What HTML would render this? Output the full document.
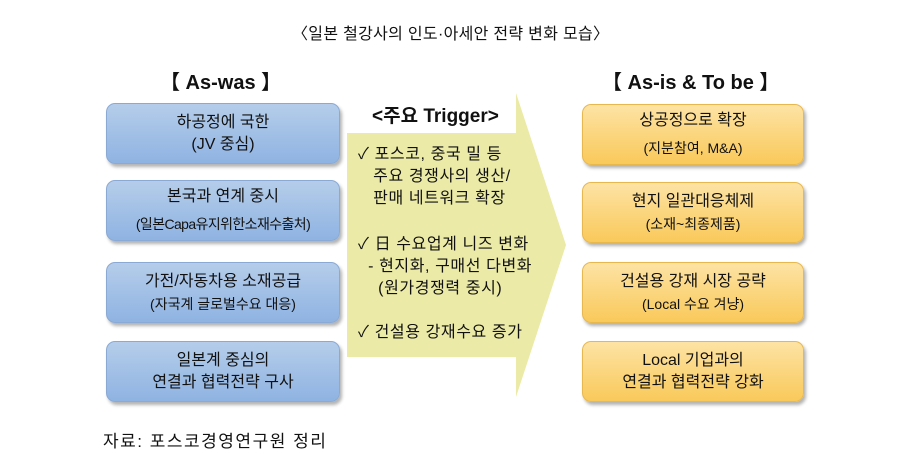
<!DOCTYPE html>
<html><head><meta charset="utf-8"><style>
body{margin:0;width:901px;height:454px;background:#fff;position:relative;overflow:hidden;font-family:"Liberation Sans","Noto Sans CJK KR",sans-serif;color:#111}
.a{position:absolute;white-space:nowrap}
.box{position:absolute;border-radius:9px;display:flex;flex-direction:column;align-items:center;justify-content:center;text-align:center;font-size:16px;line-height:22px;box-shadow:2px 3px 3px rgba(0,0,0,0.3)}
.bl{left:106px;width:232px;height:59px;background:linear-gradient(#b5cdea,#8fb3e2);border:1px solid #8aa9d4}
.or{left:582px;width:220px;height:59px;background:linear-gradient(#fde3a4,#f9c95a);border:1px solid #e8b850}
.s{font-size:14px}
.t{font-size:16px;line-height:22px;position:absolute;white-space:nowrap;letter-spacing:0.6px}
</style></head><body>
<div class="a" style="left:292px;top:20px;font-size:16px;letter-spacing:0.3px">〈일본 철강사의 인도·아세안 전략 변화 모습〉</div>
<div class="a" style="left:160px;top:66px;font-size:20px;font-weight:bold;">【 As-was 】</div>
<div class="a" style="left:602px;top:66px;font-size:20px;font-weight:bold;">【 As-is &amp; To be 】</div>

<svg style="position:absolute;left:0;top:0" width="901" height="454">
<polygon points="347,133 516,133 516,93 566,245 516,397 516,357 347,357" fill="#ebeaa6"/>
<rect x="370" y="98" width="146" height="30" fill="#fff"/>
</svg>
<div class="a" style="left:372px;top:101px;font-size:19px;font-weight:bold;">&lt;주요 Trigger&gt;</div>
<div class="t" style="left:358px;top:144px;">✓ 포스코, 중국 밀 등<br>&nbsp;&nbsp;&nbsp;주요 경쟁사의 생산/<br>&nbsp;&nbsp;&nbsp;판매 네트워크 확장</div>
<div class="t" style="left:358px;top:234px;">✓ 日 수요업계 니즈 변화<br>&nbsp;&nbsp;- 현지화, 구매선 다변화<br>&nbsp;&nbsp;&nbsp;&nbsp;(원가경쟁력 중시)</div>
<div class="t" style="left:358px;top:322px;">✓ 건설용 강재수요 증가</div>

<div class="box bl" style="top:103px;">하공정에 국한<br>(JV 중심)</div>
<div class="box bl" style="top:180px;"><div style="margin-bottom:5px">본국과 연계 중시</div><div class="s" style="letter-spacing:-0.6px">(일본Capa유지위한소재수출처)</div></div>
<div class="box bl" style="top:262px;">가전/자동차용 소재공급<br><span class="s">(자국계 글로벌수요 대응)</span></div>
<div class="box bl" style="top:341px;">일본계 중심의<br>연결과 협력전략 구사</div>

<div class="box or" style="top:104px;"><div style="margin-bottom:5px">상공정으로 확장</div><div class="s">(지분참여, M&amp;A)</div></div>
<div class="box or" style="top:182px;">현지 일관대응체제<br><span class="s">(소재~최종제품)</span></div>
<div class="box or" style="top:262px;">건설용 강재 시장 공략<br><span class="s">(Local 수요 겨냥)</span></div>
<div class="box or" style="top:341px;">Local 기업과의<br>연결과 협력전략 강화</div>

<div class="a" style="left:103px;top:427px;font-size:17px;letter-spacing:1.5px">자료: 포스코경영연구원 정리</div>
</body></html>
